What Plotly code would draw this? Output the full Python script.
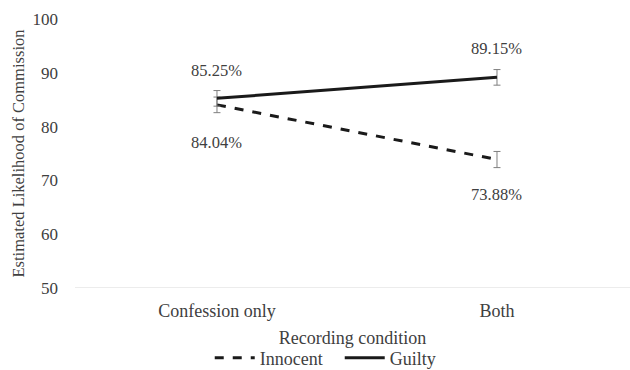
import plotly.graph_objects as go

categories = ["Confession only", "Both"]
innocent = [84.04, 73.88]
guilty = [85.25, 89.15]
innocent_err = [1.45, 1.5]
guilty_err = [1.45, 1.45]
innocent_labels = ["84.04%", "73.88%"]
guilty_labels = ["85.25%", "89.15%"]

FONT = "Liberation Serif"
TXT = "#404040"
LINE = "#1a1a1a"
FS = 18
LBL = 16.5
innocent_shift = [-38, -35]
guilty_shift = [28, 29]

fig = go.Figure()
fig.add_trace(go.Scatter(
    x=categories, y=innocent, name="Innocent", mode="lines",
    line=dict(color=LINE, width=3, dash="dash"),
    error_y=dict(type="data", array=innocent_err, color="#7f7f7f", thickness=1, width=3.5),
))
fig.add_trace(go.Scatter(
    x=categories, y=guilty, name="Guilty", mode="lines",
    line=dict(color=LINE, width=3),
    error_y=dict(type="data", array=guilty_err, color="#7f7f7f", thickness=1, width=3.5),
))

for c, v, t, s in zip(categories, guilty, guilty_labels, guilty_shift):
    fig.add_annotation(x=c, y=v, text=t, showarrow=False, yshift=s,
                       font=dict(family=FONT, size=LBL, color=TXT))
for c, v, t, s in zip(categories, innocent, innocent_labels, innocent_shift):
    fig.add_annotation(x=c, y=v, text=t, showarrow=False, yshift=s,
                       font=dict(family=FONT, size=LBL, color=TXT))

fig.update_layout(
    width=630, height=370,
    margin=dict(l=75, r=0, t=19, b=82, autoexpand=False),
    paper_bgcolor="white", plot_bgcolor="white",
    font=dict(family=FONT, size=FS, color=TXT),
    showlegend=True,
    legend=dict(orientation="h", x=0.477, xanchor="center", y=-0.26, yanchor="middle",
                font=dict(family=FONT, size=FS, color=TXT), itemwidth=40,
                entrywidth=75, tracegroupgap=0),
    xaxis=dict(showgrid=False, showline=False, zeroline=False, ticks="",
               range=[-0.507, 1.475], automargin=False, ticklabelstandoff=10,
               tickfont=dict(family=FONT, size=FS, color=TXT),
               title=dict(text="Recording condition", standoff=11,
                          font=dict(family=FONT, size=FS, color=TXT))),
    yaxis=dict(range=[50, 100], dtick=10, showgrid=False, zeroline=False,
               showline=False, ticks="", ticklabelstandoff=16, automargin=False,
               tickfont=dict(family=FONT, size=17, color=TXT),
               title=dict(text="Estimated Likelihood of Commission", standoff=3,
                          font=dict(family=FONT, size=16.5, color=TXT))),
)
fig.add_shape(type="line", xref="paper", yref="y", x0=0, x1=1, y0=50, y1=50,
              line=dict(color="#d9d9d9", width=1))

fig.write_html("out.html", config={"displayModeBar": False},
               post_script="document.body.style.margin='0';")
